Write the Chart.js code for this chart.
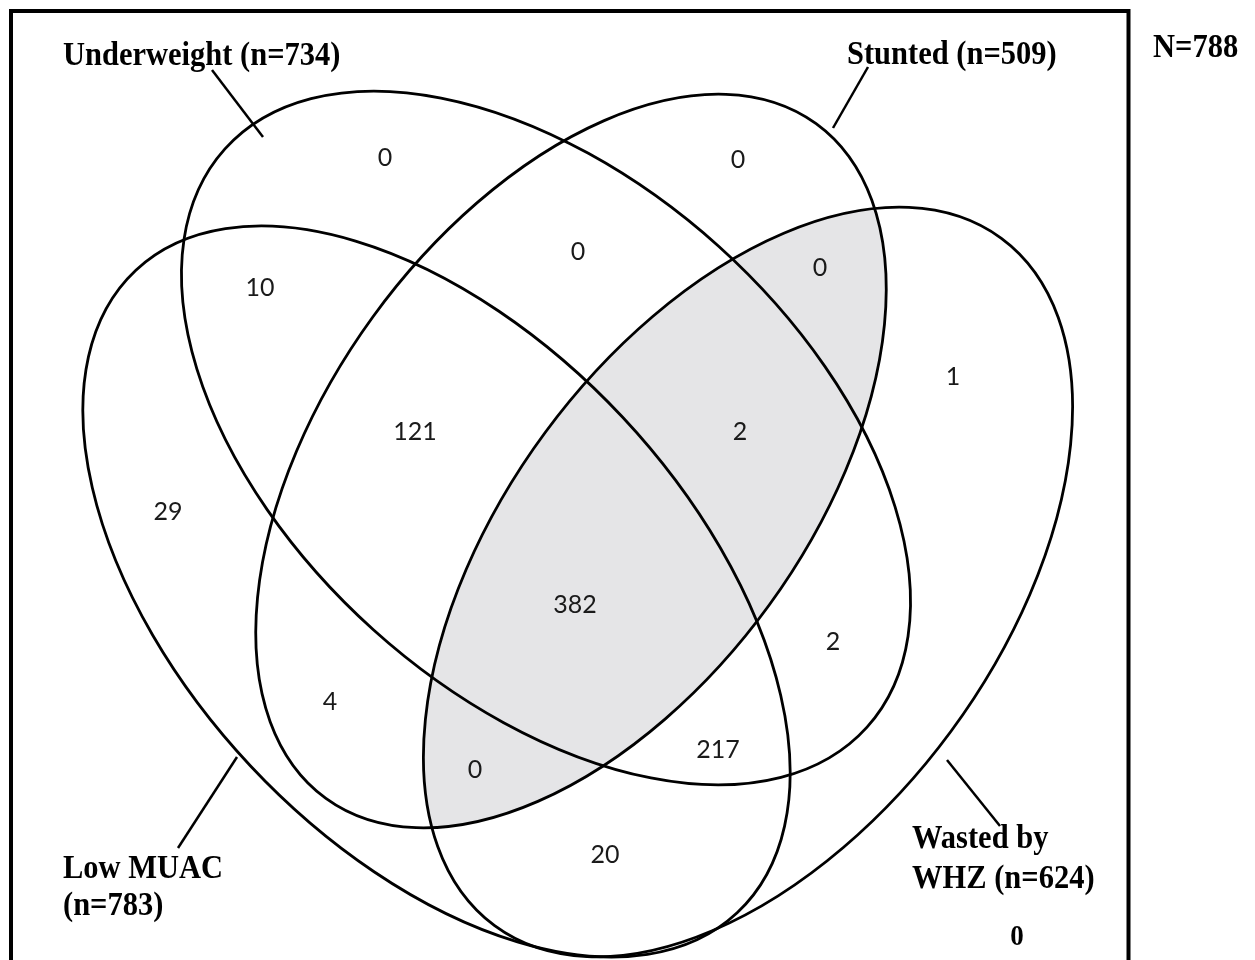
<!DOCTYPE html>
<html>
<head>
<meta charset="utf-8">
<script src="https://cdn.jsdelivr.net/npm/chart.js@4/dist/chart.umd.min.js"></script>
<style>
html,body{margin:0;padding:0;background:#fff;}
#wrap{width:1255px;height:960px;position:relative;}
</style>
</head>
<body>
<div id="wrap"><canvas id="c"></canvas></div>
<script>
// ---- data ----
const setLabels = [["Underweight (n=734)"], ["Stunted (n=509)"], ["Low MUAC", "(n=783)"], ["Wasted by", "WHZ (n=624)"]];
const setSizes = [734, 509, 783, 624];
const totalLabel = "N=788";
const regionNames = ["U only", "S only", "U∩S", "S∩W", "U∩L", "W only", "U∩S∩L", "U∩S∩W",
  "L only", "U∩S∩L∩W", "U∩W", "S∩L", "U∩L∩W", "S∩L∩W", "L∩W", "none"];
const regionCounts = [0, 0, 0, 0, 10, 1, 121, 2, 29, 382, 2, 4, 217, 0, 20, 0];

// ---- layout (positions in chart units, not data) ----
const regionPos = [[385,158],[738,160],[578,252],[820,268],[260,288],[953,377],[415,432],[740,432],
  [168,512],[575,605],[833,642],[330,702],[718,750],[475,770],[605,855],[1017,937]];
// ellipses: cx, cy, semi-major, semi-minor, rotation (deg)
const ellipses = [
  {cx:546, cy:438, a:432, b:258, rot:42},     // Underweight
  {cx:571, cy:461, a:417, b:245, rot:-54},    // Stunted
  {cx:436.5, cy:591.5, a:440, b:255, rot:46.9}, // Low MUAC
  {cx:748, cy:582, a:427, b:252, rot:-53.6}     // Wasted
];
const labelPos = [[[63,65]], [[847,64]], [[63,878],[63,915]], [[912,848],[912,888]]];
const pointers = [[[212,70],[263,137]], [[868,67],[833,128]], [[178,848],[237,757]], [[947,760],[1000,826]]];
const totalPos = [1153,57];

function ellPath(ctx, chart, e){
  const xs = chart.scales.x, ys = chart.scales.y;
  const cx = xs.getPixelForValue(e.cx), cy = ys.getPixelForValue(e.cy);
  const rx = Math.abs(xs.getPixelForValue(e.cx + e.a) - cx);
  const ry = Math.abs(ys.getPixelForValue(e.cy + e.b) - cy);
  ctx.beginPath();
  ctx.ellipse(cx, cy, rx, ry, e.rot * Math.PI / 180, 0, Math.PI * 2);
}
function tallText(ctx, t, x, y, sy){
  ctx.save(); ctx.translate(x, y); ctx.scale(1, sy); ctx.fillText(t, 0, 0); ctx.restore();
}

const vennPlugin = {
  id: 'venn',
  beforeDatasetsDraw(chart){
    const ctx = chart.ctx, xs = chart.scales.x, ys = chart.scales.y;
    ctx.save();
    // frame
    ctx.strokeStyle = '#000'; ctx.lineWidth = 4;
    ctx.beginPath();
    ctx.moveTo(xs.getPixelForValue(11), ys.getPixelForValue(990));
    ctx.lineTo(xs.getPixelForValue(11), ys.getPixelForValue(11));
    ctx.lineTo(xs.getPixelForValue(1128.5), ys.getPixelForValue(11));
    ctx.lineTo(xs.getPixelForValue(1128.5), ys.getPixelForValue(990));
    ctx.stroke();
    // shaded: Stunted ∩ Wasted
    ctx.save();
    ellPath(ctx, chart, ellipses[1]); ctx.clip();
    ellPath(ctx, chart, ellipses[3]); ctx.fillStyle = '#e5e5e7'; ctx.fill();
    ctx.restore();
    // outlines
    ctx.strokeStyle = '#000'; ctx.lineWidth = 2.8;
    ellipses.forEach(e => { ellPath(ctx, chart, e); ctx.stroke(); });
    // pointer lines
    ctx.lineWidth = 2.5;
    pointers.forEach(p => {
      ctx.beginPath();
      ctx.moveTo(xs.getPixelForValue(p[0][0]), ys.getPixelForValue(p[0][1]));
      ctx.lineTo(xs.getPixelForValue(p[1][0]), ys.getPixelForValue(p[1][1]));
      ctx.stroke();
    });
    ctx.restore();
  },
  afterDatasetsDraw(chart){
    const ctx = chart.ctx, xs = chart.scales.x, ys = chart.scales.y;
    ctx.save();
    // set labels (bold serif)
    ctx.fillStyle = '#000';
    ctx.textAlign = 'left'; ctx.textBaseline = 'alphabetic';
    ctx.font = 'bold 30.5px "Liberation Serif", "DejaVu Serif", serif';
    setLabels.forEach((lines, i) => {
      lines.forEach((t, j) => {
        tallText(ctx, t, xs.getPixelForValue(labelPos[i][j][0]), ys.getPixelForValue(labelPos[i][j][1]), 1.1);
      });
    });
    tallText(ctx, totalLabel, xs.getPixelForValue(totalPos[0]), ys.getPixelForValue(totalPos[1]), 1.1);
    // region counts
    const meta = chart.getDatasetMeta(0);
    meta.data.forEach((pt, i) => {
      const last = i === regionCounts.length - 1;
      ctx.textAlign = 'center';
      if (last) {
        ctx.textBaseline = 'alphabetic';
        ctx.font = 'bold 27px "Liberation Serif", serif';
        ctx.fillStyle = '#000';
        tallText(ctx, String(regionCounts[i]), pt.x, pt.y + 8, 1.1);
      } else {
        ctx.textBaseline = 'middle';
        ctx.font = '25px Lato, "Open Sans", sans-serif';
        ctx.fillStyle = '#1a1a1a';
        ctx.fillText(String(regionCounts[i]), pt.x, pt.y);
      }
    });
    ctx.restore();
  }
};

new Chart(document.getElementById('c'), {
  type: 'scatter',
  data: {
    datasets: [{
      label: 'Region counts',
      data: regionCounts.map((v, i) => ({x: regionPos[i][0], y: regionPos[i][1], v: v, name: regionNames[i]})),
      pointRadius: 0, pointHoverRadius: 0, showLine: false
    }]
  },
  options: {
    responsive: true, maintainAspectRatio: false, animation: false,
    layout: {padding: 0},
    plugins: {legend: {display: false}, tooltip: {enabled: false}, title: {display: false}},
    scales: {
      x: {type: 'linear', min: 0, max: 1255, display: false},
      y: {type: 'linear', min: 0, max: 960, reverse: true, display: false}
    }
  },
  plugins: [vennPlugin]
});
</script>
</body>
</html>
